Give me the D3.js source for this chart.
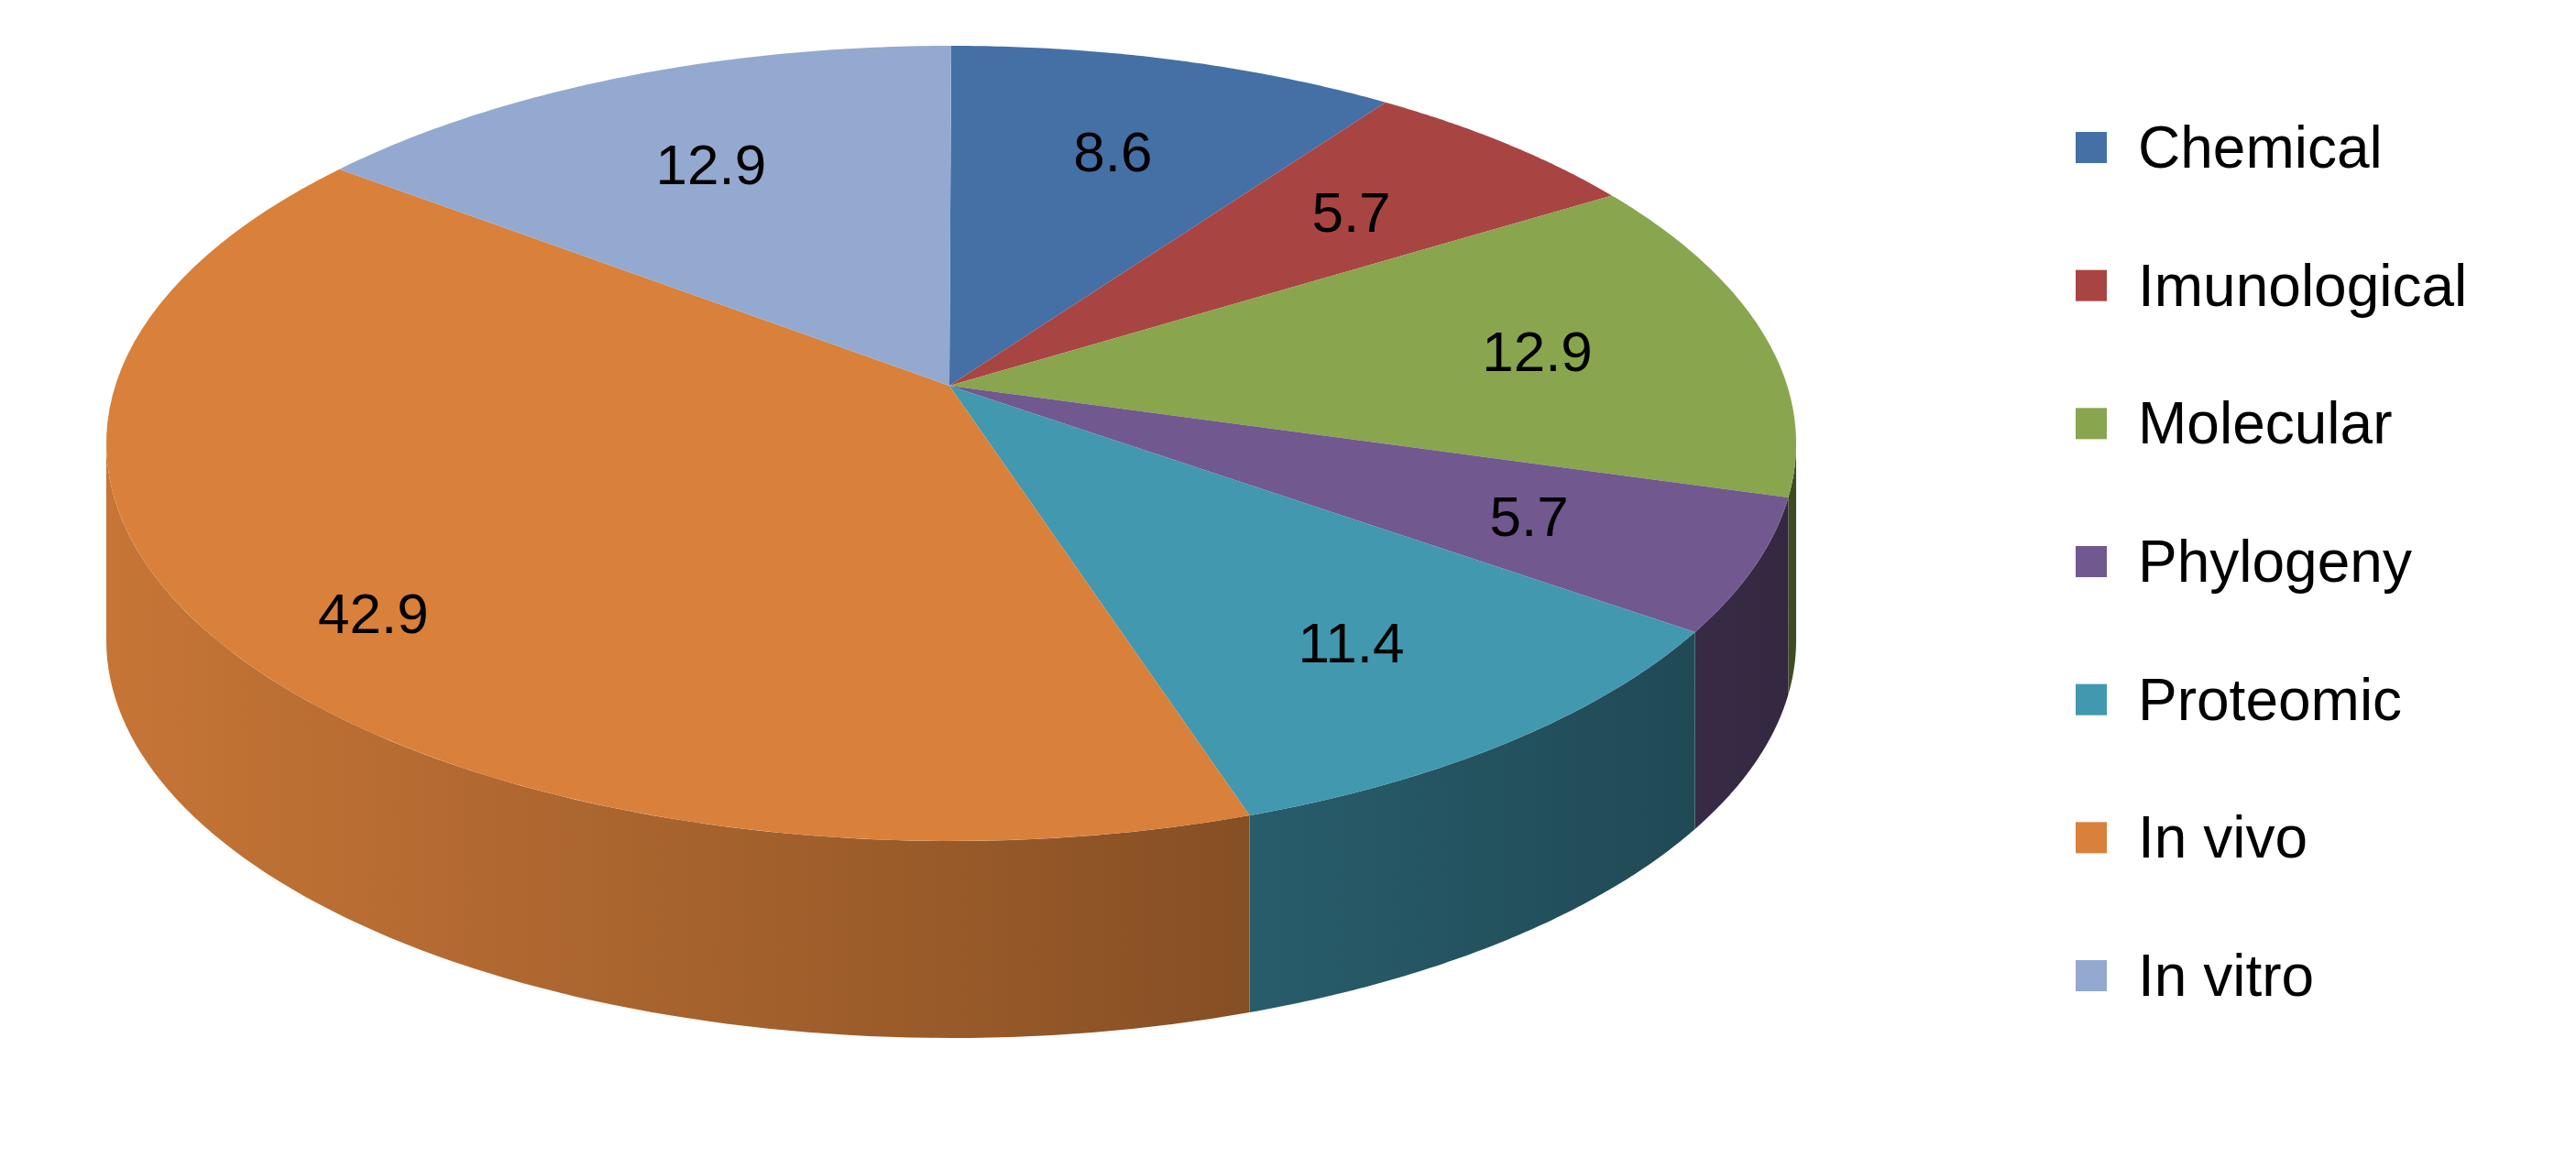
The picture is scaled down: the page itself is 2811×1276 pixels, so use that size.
<!DOCTYPE html><html><head><script src="https://cdn.jsdelivr.net/npm/d3@7"></script>
<style>body{margin:0;background:#fff}</style></head><body><svg id="c" width="2811" height="1276"></svg>
<script>
const categories=["Chemical","Imunological","Molecular","Phylogeny","Proteomic","In vivo","In vitro"];
const values=[8.6,5.7,12.9,5.7,11.4,42.9,12.9];
const colors=["#4470a5","#a84543","#89a54e","#71588f","#4198af","#d9803b","#93a9d0"];
const svg=d3.select("#c");
const cx=1038,cy=484,rx=922,ry=434,depth=215,ax=1036,ay=421;
const total=d3.sum(values);
const pie=d3.pie().sort(null).value(d=>d)(values);
const pt=(t,dy=0)=>[cx+rx*Math.sin(t),cy-ry*Math.cos(t)+dy];
const defs=svg.append("defs");
colors.forEach((c,i)=>{const g=defs.append("linearGradient").attr("id","g"+i).attr("gradientUnits","userSpaceOnUse")
 .attr("x1",cx-rx).attr("x2",cx+rx).attr("y1",0).attr("y2",0);
 g.append("stop").attr("offset",0).attr("stop-color",d3.color(c).darker(0.25));
 g.append("stop").attr("offset",0.5).attr("stop-color",d3.color(c).darker(1.0));
 g.append("stop").attr("offset",1).attr("stop-color",d3.color(c).darker(2.2));});
const arcPts=(a,b,dy=0)=>{const n=80,p=[];for(let k=0;k<=n;k++)p.push(pt(a+(b-a)*k/n,dy));return p;};
// sides
pie.forEach((s,i)=>{const a=Math.max(s.startAngle,Math.PI/2),b=Math.min(s.endAngle,3*Math.PI/2);if(b<=a)return;
 const top=arcPts(a,b),bot=arcPts(b,a,depth);
 svg.append("path").attr("d",d3.line()(top.concat(bot))+"Z").attr("fill","url(#g"+i+")");});
// tops
pie.forEach((s,i)=>{const p=[[ax,ay]].concat(arcPts(s.startAngle,s.endAngle));
 svg.append("path").attr("d",d3.line()(p)+"Z").attr("fill",colors[i]);});
// labels
pie.forEach((s,i)=>{const m=(s.startAngle+s.endAngle)/2,e=pt(m),f=values[i]>30?0.82:0.72;
 svg.append("text").attr("x",ax+(e[0]-ax)*f).attr("y",ay+(e[1]-ay)*f).attr("text-anchor","middle").attr("dominant-baseline","central")
 .attr("font-family","Liberation Sans, Arial").attr("font-size",62).attr("fill","#000").text(values[i].toFixed(1));});
// legend
const ly=d3.scalePoint().domain(categories).range([161,1065]);
categories.forEach((c,i)=>{svg.append("rect").attr("x",2265).attr("y",ly(c)-17).attr("width",34).attr("height",34).attr("fill",colors[i]);
 svg.append("text").attr("x",2333).attr("y",ly(c)).attr("dominant-baseline","central").attr("font-family","Liberation Sans, Arial")
 .attr("font-size",64).attr("fill","#000").text(c);});
</script></body></html>
